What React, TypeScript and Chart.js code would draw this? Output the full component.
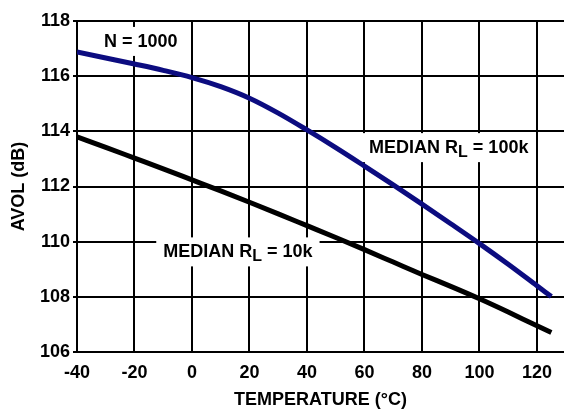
import React, { useEffect, useRef } from "react";
import { Chart, registerables } from "chart.js";

Chart.register(...registerables);

const temperatures = [-40, -30, -20, -10, 0, 10, 20, 30, 40, 50, 60, 70, 80, 90, 100, 110, 120, 125];
const avol100k = [116.88, 116.66, 116.44, 116.21, 115.95, 115.62, 115.2, 114.66, 114.05, 113.41, 112.74, 112.06, 111.36, 110.65, 109.93, 109.18, 108.4, 108.01];
const avol10k = [113.8, 113.42, 113.03, 112.64, 112.24, 111.84, 111.43, 111.01, 110.58, 110.15, 109.71, 109.26, 108.81, 108.38, 107.93, 107.45, 106.95, 106.71];
const xTickValues = [-40, -20, 0, 20, 40, 60, 80, 100, 120];
const yTickValues = [106, 108, 110, 112, 114, 116, 118];

const FONT = '"Liberation Sans", Arial, Helvetica, sans-serif';

type Label = { x: number; y: number; main: string; sub?: string; rest?: string };
const labels: Label[] = [
  { x: -30.6, y: 117.06, main: "N = 1000" },
  { x: 61.6, y: 113.21, main: "MEDIAN R", sub: "L", rest: " = 100k" },
  { x: -10, y: 109.43, main: "MEDIAN R", sub: "L", rest: " = 10k" },
];

const labelPlugin = {
  id: "labelPlugin",
  beforeDatasetsDraw(chart: any) {
    const ctx = chart.ctx;
    const xs = chart.scales.x;
    const ys = chart.scales.y;
    ctx.save();
    for (const l of labels) {
      const px = xs.getPixelForValue(l.x);
      const py = ys.getPixelForValue(l.y);
      const bigFont = `bold 18px ${FONT}`;
      const subFont = `bold 16px ${FONT}`;
      ctx.font = bigFont;
      const w1 = ctx.measureText(l.main).width;
      let w2 = 0;
      let w3 = 0;
      if (l.sub) {
        ctx.font = subFont;
        w2 = ctx.measureText(l.sub).width;
      }
      if (l.rest) {
        ctx.font = bigFont;
        w3 = ctx.measureText(l.rest).width;
      }
      const total = w1 + w2 + w3;
      ctx.fillStyle = "#ffffff";
      ctx.fillRect(px - 7, py - 20, total + 14, 29);
      ctx.fillStyle = "#000000";
      ctx.textBaseline = "alphabetic";
      ctx.textAlign = "left";
      ctx.font = bigFont;
      ctx.fillText(l.main, px, py);
      if (l.sub) {
        ctx.font = subFont;
        ctx.fillText(l.sub, px + w1, py + 4);
      }
      if (l.rest) {
        ctx.font = bigFont;
        ctx.fillText(l.rest, px + w1 + w2, py);
      }
    }
    ctx.restore();
  },
};

export default function App() {
  const ref = useRef<HTMLCanvasElement>(null);
  useEffect(() => {
    document.body.style.margin = "0";
    const canvas = ref.current;
    if (!canvas) return;
    const chart = new Chart(canvas, {
      type: "line",
      data: {
        labels: temperatures,
        datasets: [
          {
            label: "MEDIAN RL = 100k",
            data: temperatures.map((t, i) => ({ x: t, y: avol100k[i] })),
            borderColor: "#0c0c80",
            borderWidth: 5,
            pointRadius: 0,
            cubicInterpolationMode: "monotone",
            borderCapStyle: "butt",
          },
          {
            label: "MEDIAN RL = 10k",
            data: temperatures.map((t, i) => ({ x: t, y: avol10k[i] })),
            borderColor: "#000000",
            borderWidth: 5,
            pointRadius: 0,
            cubicInterpolationMode: "monotone",
            borderCapStyle: "butt",
          },
        ],
      },
      options: {
        animation: false,
        responsive: false,
        maintainAspectRatio: false,
        layout: { padding: { top: 21, right: 0, left: 0, bottom: 0 } },
        plugins: { legend: { display: false }, tooltip: { enabled: false } },
        scales: {
          x: {
            type: "linear",
            min: -40,
            max: 129.4,
            afterBuildTicks: (s: any) => {
              s.ticks = xTickValues.map((v) => ({ value: v }));
            },
            afterFit: (s: any) => {
              s.height = 57;
            },
            ticks: {
              color: "#000",
              font: { family: FONT, size: 18, weight: "bold" },
              padding: 10,
              maxRotation: 0,
              autoSkip: false,
            },
            grid: { color: "#000", lineWidth: 2, drawTicks: false },
            border: { color: "#000", width: 2 },
            title: {
              display: true,
              text: "TEMPERATURE (°C)",
              color: "#000",
              font: { family: FONT, size: 18, weight: "bold" },
              padding: { top: 0, bottom: -2 },
            },
          },
          y: {
            type: "linear",
            min: 106,
            max: 118,
            afterBuildTicks: (s: any) => {
              s.ticks = yTickValues.map((v) => ({ value: v }));
            },
            afterFit: (s: any) => {
              s.width = 77;
            },
            ticks: {
              color: "#000",
              font: { family: FONT, size: 18, weight: "bold" },
              padding: 3,
              autoSkip: false,
            },
            grid: { color: "#000", lineWidth: 2, tickLength: 4 },
            border: { color: "#000", width: 2 },
            title: {
              display: true,
              text: "AVOL (dB)",
              color: "#000",
              font: { family: FONT, size: 18, weight: "bold" },
              padding: { top: 8, bottom: 0 },
            },
          },
        },
      },
      plugins: [labelPlugin],
    } as any);
    return () => chart.destroy();
  }, []);
  return (
    <div style={{ width: 564, height: 409 }}>
      <canvas ref={ref} width={564} height={409} style={{ width: 564, height: 409, display: "block" }} />
    </div>
  );
}
